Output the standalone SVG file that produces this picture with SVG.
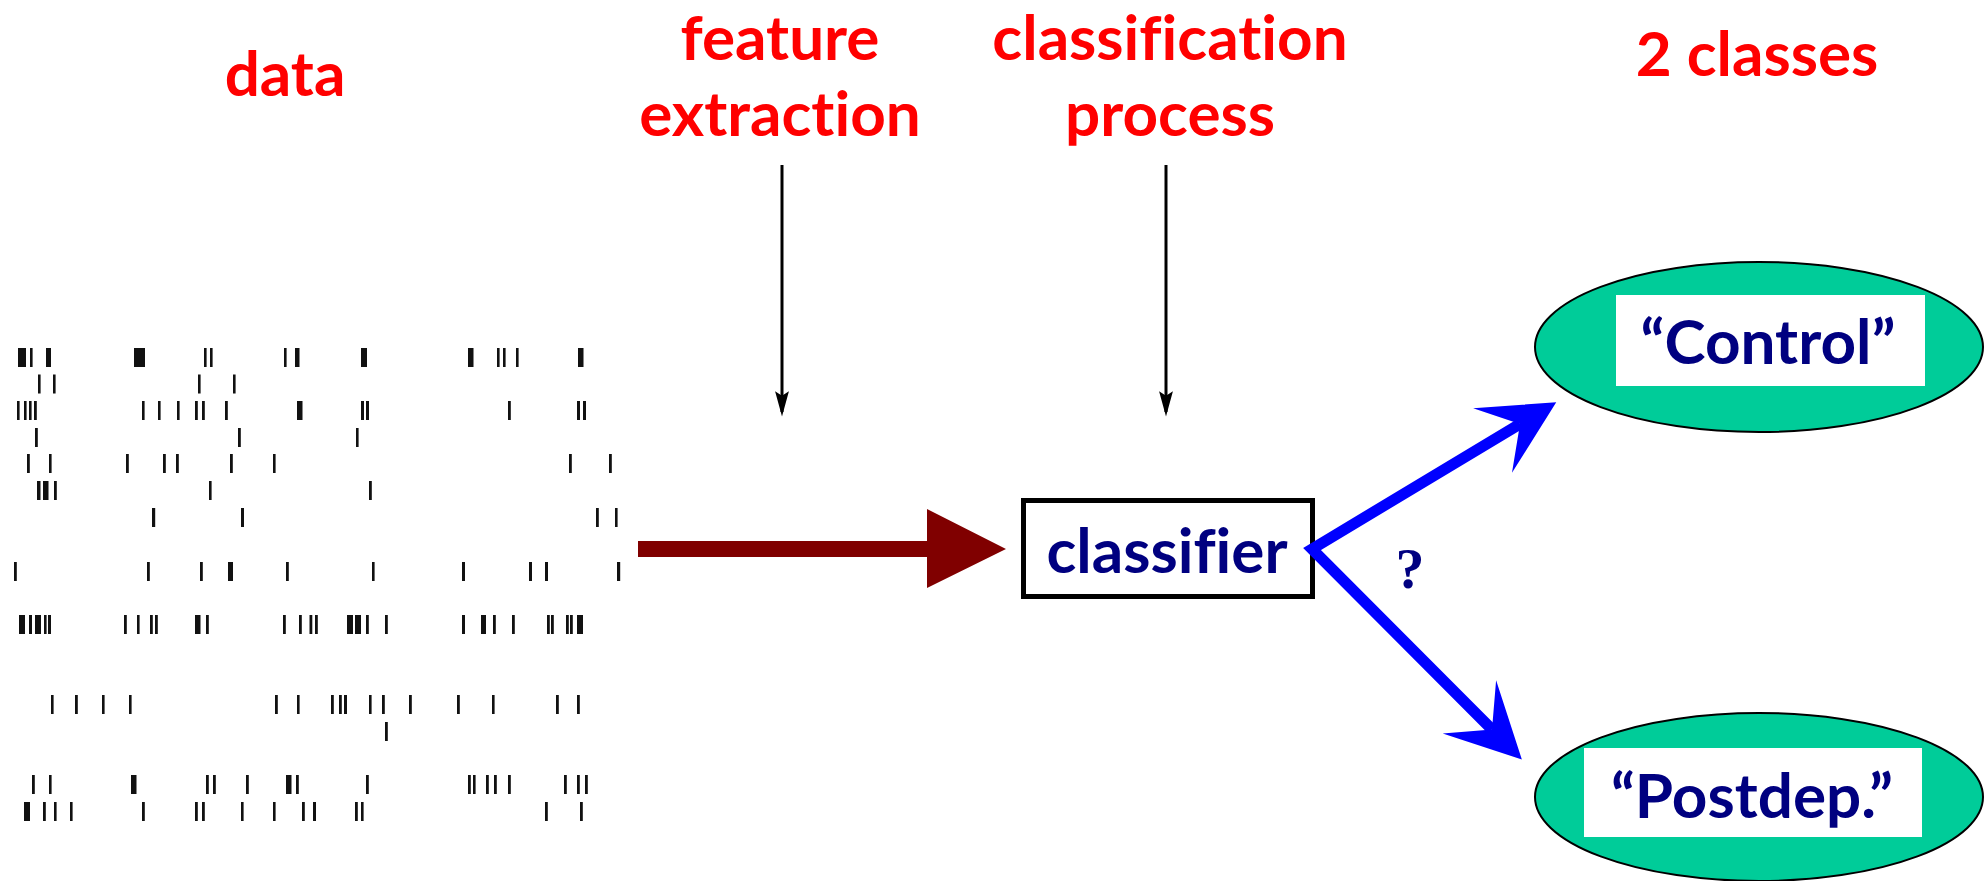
<svg xmlns="http://www.w3.org/2000/svg" width="1987" height="881" viewBox="0 0 1987 881">
  <style>
    .title { font-family: Lato, "Open Sans", sans-serif; font-weight: bold; font-size: 62px; fill: #ff0000; text-anchor: middle; font-variant-ligatures: none; font-feature-settings: "liga" 0; }
    .label { font-family: Lato, "Open Sans", sans-serif; font-weight: bold; font-size: 62px; fill: #000080; text-anchor: middle; font-variant-ligatures: none; font-feature-settings: "liga" 0; }
    .spk rect { fill: #111; }
    .cls { fill: #00cc99; stroke: #000; stroke-width: 2; }
    .plate { fill: #fff; }
  </style>
  <defs>
    <marker id="barb" markerUnits="userSpaceOnUse" markerWidth="80" markerHeight="80" refX="0" refY="0" viewBox="-30 -35 70 70" orient="auto-start-reverse" overflow="visible">
      <path d="M37,0 L-28,-33 L0,0 L-28,33 Z" fill="#0000ff"/>
    </marker>
    <marker id="tick" markerUnits="userSpaceOnUse" markerWidth="20" markerHeight="30" refX="0" refY="0" viewBox="-8 -22 16 26" orient="auto" overflow="visible">
      <path d="M0,4 L-6,-18 L0,-14 L6,-18 Z" fill="#000" transform="rotate(-90)"/>
    </marker>
  </defs>

  <!-- column headings -->
  <text class="title" x="285" y="96">data</text>
  <text class="title" x="780" y="60">feature</text>
  <text class="title" x="780" y="136">extraction</text>
  <text class="title" x="1170" y="60">classification</text>
  <text class="title" x="1170" y="136">process</text>
  <text class="title" x="1757" y="76">2 classes</text>

  <!-- spike raster: one group per trial row -->
  <g id="raster" class="spk">
    <g transform="translate(0,348)">
      <rect x="18" y="0" width="8" height="19"/><rect x="30" y="0" width="2.6" height="19"/><rect x="46" y="0" width="5" height="19"/>
      <rect x="134" y="0" width="11" height="19"/><rect x="204" y="0" width="2.6" height="19"/><rect x="210" y="0" width="2.6" height="19"/>
      <rect x="284" y="0" width="2.6" height="19"/><rect x="295" y="0" width="4.5" height="19"/><rect x="361" y="0" width="6" height="19"/>
      <rect x="468" y="0" width="5.5" height="19"/><rect x="497" y="0" width="2.6" height="19"/><rect x="503" y="0" width="2.6" height="19"/>
      <rect x="516" y="0" width="2.6" height="19"/><rect x="578" y="0" width="5.5" height="19"/>
    </g>
    <g transform="translate(0,374.5)">
      <rect x="38" y="0" width="2.6" height="19"/><rect x="53" y="0" width="2.6" height="19"/><rect x="198" y="0" width="2.6" height="19"/><rect x="233" y="0" width="2.6" height="19"/>
    </g>
    <g transform="translate(0,401)">
      <rect x="17" y="0" width="2.6" height="19"/><rect x="24" y="0" width="2.6" height="19"/><rect x="29" y="0" width="2.6" height="19"/><rect x="34" y="0" width="2.8" height="19"/>
      <rect x="142" y="0" width="2.6" height="19"/><rect x="158" y="0" width="2.6" height="19"/><rect x="177" y="0" width="2.6" height="19"/><rect x="195" y="0" width="2.8" height="19"/>
      <rect x="202" y="0" width="2.8" height="19"/><rect x="225" y="0" width="2.8" height="19"/><rect x="297" y="0" width="5.5" height="19"/><rect x="361" y="0" width="3" height="19"/>
      <rect x="366" y="0" width="3" height="19"/><rect x="508" y="0" width="2.8" height="19"/><rect x="577" y="0" width="3" height="19"/><rect x="583" y="0" width="3" height="19"/>
    </g>
    <g transform="translate(0,428)">
      <rect x="35" y="0" width="2.8" height="19"/><rect x="238" y="0" width="2.8" height="19"/><rect x="356" y="0" width="2.6" height="19"/>
    </g>
    <g transform="translate(0,454)">
      <rect x="27" y="0" width="2.8" height="19"/><rect x="49" y="0" width="2.6" height="19"/><rect x="126" y="0" width="2.8" height="19"/><rect x="163" y="0" width="2.8" height="19"/>
      <rect x="176" y="0" width="2.8" height="19"/><rect x="230" y="0" width="2.8" height="19"/><rect x="273" y="0" width="2.6" height="19"/><rect x="569" y="0" width="2.8" height="19"/>
      <rect x="609" y="0" width="2.8" height="19"/>
    </g>
    <g transform="translate(0,481)">
      <rect x="37" y="0" width="3.5" height="19"/><rect x="43" y="0" width="5.5" height="19"/><rect x="54" y="0" width="2.8" height="19"/><rect x="209" y="0" width="2.6" height="19"/>
      <rect x="369" y="0" width="2.8" height="19"/>
    </g>
    <g transform="translate(0,508)">
      <rect x="152" y="0" width="3.2" height="19"/><rect x="241" y="0" width="3" height="19"/><rect x="596" y="0" width="2.8" height="19"/><rect x="615" y="0" width="2.6" height="19"/>
    </g>
    <g transform="translate(0,562)">
      <rect x="14" y="0" width="2.8" height="19"/><rect x="147" y="0" width="2.8" height="19"/><rect x="200" y="0" width="2.8" height="19"/><rect x="228" y="0" width="5" height="19"/>
      <rect x="286" y="0" width="2.8" height="19"/><rect x="372" y="0" width="2.6" height="19"/><rect x="462" y="0" width="3" height="19"/><rect x="529" y="0" width="3" height="19"/>
      <rect x="545" y="0" width="3" height="19"/><rect x="617" y="0" width="3.2" height="19"/>
    </g>
    <g transform="translate(0,615)">
      <rect x="19" y="0" width="6" height="19"/><rect x="29" y="0" width="3" height="19"/><rect x="35" y="0" width="6" height="19"/><rect x="44" y="0" width="2.6" height="19"/>
      <rect x="48" y="0" width="3" height="19"/><rect x="124" y="0" width="2.8" height="19"/><rect x="137" y="0" width="2.6" height="19"/><rect x="150" y="0" width="2.8" height="19"/>
      <rect x="155" y="0" width="2.8" height="19"/><rect x="195" y="0" width="5.5" height="19"/><rect x="206" y="0" width="2.8" height="19"/><rect x="283" y="0" width="2.8" height="19"/>
      <rect x="299" y="0" width="2.8" height="19"/><rect x="309.5" y="0" width="2.8" height="19"/><rect x="315" y="0" width="2.8" height="19"/><rect x="347" y="0" width="6" height="19"/>
      <rect x="355" y="0" width="6" height="19"/><rect x="366" y="0" width="2.8" height="19"/><rect x="385" y="0" width="2.8" height="19"/><rect x="462" y="0" width="3" height="19"/>
      <rect x="481" y="0" width="5" height="19"/><rect x="493" y="0" width="2.8" height="19"/><rect x="512" y="0" width="2.8" height="19"/><rect x="547" y="0" width="2.8" height="19"/>
      <rect x="551" y="0" width="2.8" height="19"/><rect x="566" y="0" width="2.8" height="19"/><rect x="570" y="0" width="2.8" height="19"/><rect x="577" y="0" width="6" height="19"/>
    </g>
    <g transform="translate(0,695)">
      <rect x="51" y="0" width="2.6" height="19"/><rect x="75" y="0" width="2.8" height="19"/><rect x="102" y="0" width="2.6" height="19"/><rect x="129" y="0" width="2.6" height="19"/>
      <rect x="275" y="0" width="2.8" height="19"/><rect x="297" y="0" width="2.6" height="19"/><rect x="331" y="0" width="2.8" height="19"/><rect x="339" y="0" width="2.8" height="19"/>
      <rect x="344" y="0" width="3" height="19"/><rect x="369" y="0" width="2.6" height="19"/><rect x="382" y="0" width="2.8" height="19"/><rect x="409" y="0" width="2.8" height="19"/>
      <rect x="457" y="0" width="2.8" height="19"/><rect x="492" y="0" width="2.6" height="19"/><rect x="556" y="0" width="2.8" height="19"/><rect x="577" y="0" width="2.8" height="19"/>
    </g>
    <g transform="translate(0,722)">
      <rect x="385" y="0" width="2.8" height="19"/>
    </g>
    <g transform="translate(0,775)">
      <rect x="32" y="0" width="2.8" height="19"/><rect x="49" y="0" width="2.6" height="19"/><rect x="131" y="0" width="5.5" height="19"/><rect x="206" y="0" width="2.8" height="19"/>
      <rect x="213" y="0" width="2.8" height="19"/><rect x="246" y="0" width="2.8" height="19"/><rect x="286" y="0" width="5.5" height="19"/><rect x="296" y="0" width="2.8" height="19"/>
      <rect x="366" y="0" width="2.8" height="19"/><rect x="468" y="0" width="2.8" height="19"/><rect x="473" y="0" width="2.6" height="19"/><rect x="486" y="0" width="2.8" height="19"/>
      <rect x="494" y="0" width="2.8" height="19"/><rect x="508" y="0" width="2.8" height="19"/><rect x="564" y="0" width="2.8" height="19"/><rect x="577" y="0" width="2.8" height="19"/>
      <rect x="585" y="0" width="2.8" height="19"/>
    </g>
    <g transform="translate(0,802)">
      <rect x="24" y="0" width="6" height="19"/><rect x="43" y="0" width="2.8" height="19"/><rect x="54" y="0" width="2.6" height="19"/><rect x="70" y="0" width="2.6" height="19"/>
      <rect x="142" y="0" width="2.8" height="19"/><rect x="195" y="0" width="2.8" height="19"/><rect x="202" y="0" width="2.8" height="19"/><rect x="241" y="0" width="2.6" height="19"/>
      <rect x="273" y="0" width="2.6" height="19"/><rect x="302" y="0" width="2.8" height="19"/><rect x="313" y="0" width="3" height="19"/><rect x="355" y="0" width="2.8" height="19"/>
      <rect x="361" y="0" width="2.6" height="19"/><rect x="545" y="0" width="2.8" height="19"/><rect x="580" y="0" width="2.8" height="19"/>
    </g>
  </g>

  <!-- classifier node -->
  <g id="classifier">
    <rect x="1023.5" y="500.5" width="289" height="96" fill="#fff" stroke="#000" stroke-width="5"/>
    <text class="label" x="1167" y="573">classifier</text>
  </g>

  <!-- class nodes -->
  <g id="control">
    <ellipse class="cls" cx="1759" cy="347" rx="224" ry="85"/>
    <rect class="plate" x="1616" y="295" width="309" height="91"/>
    <text class="label" x="1768" y="364">“Control”</text>
  </g>
  <g id="postdep">
    <ellipse class="cls" cx="1759" cy="797" rx="224" ry="84"/>
    <rect class="plate" x="1584" y="748" width="338" height="89"/>
    <text class="label" x="1752" y="818">“Postdep.”</text>
  </g>

  <!-- connectors -->
  <g id="connectors">
    <line x1="782" y1="165" x2="782" y2="412" stroke="#000" stroke-width="3" marker-end="url(#tick)"/>
    <line x1="1166" y1="165" x2="1166" y2="412" stroke="#000" stroke-width="3" marker-end="url(#tick)"/>
    <path d="M638,541 H927 V509 L1006,549 L927,588 V557 H638 Z" fill="#800000"/>
    <path d="M1520,424 L1312,549 L1492,729.5" fill="none" stroke="#0000ff" stroke-width="11" stroke-linejoin="miter" marker-start="url(#barb)" marker-end="url(#barb)"/>
    <text x="1410" y="588" font-family="'Liberation Serif', serif" font-weight="bold" font-size="58" fill="#000080" text-anchor="middle">?</text>
  </g>
</svg>
